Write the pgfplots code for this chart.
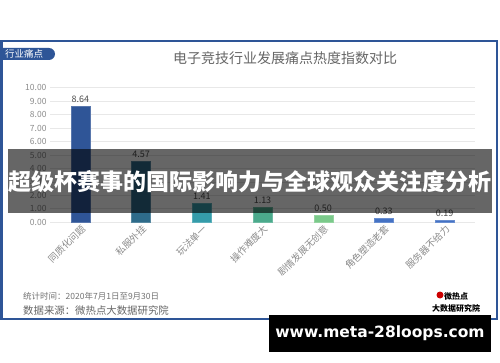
\documentclass[border=0pt]{standalone}
\usepackage{pgfplots}
\pgfplotsset{compat=1.18}
\usepackage{fontspec}
\setmainfont{Noto Sans CJK SC}
\newfontfamily\webfont{DejaVu Sans}
\definecolor{frameblue}{HTML}{2E5597}
\definecolor{cA}{HTML}{2F5597}
\definecolor{cB}{HTML}{2E6B8A}
\definecolor{cC}{HTML}{359CAA}
\definecolor{cD}{HTML}{4BAA8C}
\definecolor{cE}{HTML}{7AC98A}
\definecolor{cF}{HTML}{4472C4}
\definecolor{cG}{HTML}{4472C4}
\definecolor{gridc}{HTML}{E8E8E8}
\definecolor{tickc}{HTML}{8C8C8C}
\begin{document}
\begin{tikzpicture}
\path[use as bounding box, fill=white] (0pt,0pt) rectangle (500pt,362pt);
% frame
\draw[frameblue, line width=2.5pt] (1.5pt,43pt) rectangle (497pt,321pt);
% tag
\fill[frameblue] (0pt,302pt) -- (49pt,302pt) arc[start angle=-90,end angle=90,radius=6pt] -- (0pt,314pt) -- cycle;
\node[anchor=west, text=white, font=\fontsize{9.5pt}{10pt}\selectfont, inner sep=0pt] at (5pt,308pt) {行业痛点};
% title
\node[text=black!60, font=\fontsize{14pt}{15pt}\selectfont] at (285pt,304pt) {电子竞技行业发展痛点热度指数对比};
\begin{axis}[
  at={(50pt,139.7pt)}, anchor=south west,
  scale only axis, width=425pt, height=134.6pt,
  xmin=-0.5, xmax=6.5, ymin=0, ymax=10,
  ytick={0,1,...,10},
  xtick={0,1,2,3,4,5,6},
  xticklabels={同质化问题,私服外挂,玩法单一,操作难度大,剧情发展无创意,角色塑造老套,服务器不给力},
  xticklabel style={rotate=45, anchor=north east, text=tickc, font=\fontsize{9.5pt}{10pt}\selectfont, inner sep=1pt},
  yticklabel style={text=tickc, font=\fontsize{8.5pt}{9pt}\selectfont},
  /pgf/number format/assume math mode=true,
  yticklabel={\pgfmathprintnumber[fixed,fixed zerofill,precision=2]{\tick}},
  axis line style={draw=none},
  major tick length=0pt,
  ymajorgrids, grid style={gridc, line width=0.8pt},
  ybar, bar width=19pt, bar shift=0pt,
  nodes near coords,
  nodes near coords style={text=black!70, font=\fontsize{9pt}{10pt}\selectfont, /pgf/number format/.cd, fixed, fixed zerofill, precision=2, assume math mode=true},
  clip=false,
]
\addplot[fill=cA, draw=cA!80!white] coordinates {(0,8.64)};
\addplot[fill=cB, draw=cB!80!white] coordinates {(1,4.57)};
\addplot[fill=cC, draw=cC!80!white] coordinates {(2,1.41)};
\addplot[fill=cD, draw=cD!80!white] coordinates {(3,1.13)};
\addplot[fill=cE, draw=cE!80!white] coordinates {(4,0.50)};
\addplot[fill=cF, draw=cF!80!white] coordinates {(5,0.33)};
\addplot[fill=cG, draw=cG!80!white] coordinates {(6,0.19)};
\end{axis}
% footer
\node[anchor=west, text=black!55, font=\fontsize{8.5pt}{9pt}\selectfont, inner sep=0pt] at (23pt,65.5pt) {统计时间：2020年7月1日至9月30日};
\node[anchor=west, text=black!60, font=\fontsize{10.4pt}{11pt}\selectfont, inner sep=0pt] at (23pt,51.3pt) {数据来源：微热点大数据研究院};
% logo
\fill[red!80!black] (440pt,67pt) circle (3.5pt);
\node[anchor=west, font=\bfseries\fontsize{8pt}{9pt}\selectfont, inner sep=0pt] at (444pt,66pt) {微热点};
\node[font=\bfseries\fontsize{8pt}{9pt}\selectfont, inner sep=0pt] at (456pt,54pt) {大数据研究院};
% banner
\fill[black, opacity=0.6] (8pt,149pt) rectangle (492pt,213pt);
\node[text=white, font=\bfseries\fontsize{23pt}{24pt}\selectfont] at (250pt,180pt) {超级杯赛事的国际影响力与全球观众关注度分析};
% website box
\fill[black] (269pt,10pt) rectangle (491pt,47pt);
\node[text=white, font=\webfont\bfseries\fontsize{15.5pt}{17pt}\selectfont] at (380pt,28.5pt) {www.meta-28loops.com};
\end{tikzpicture}
\end{document}
